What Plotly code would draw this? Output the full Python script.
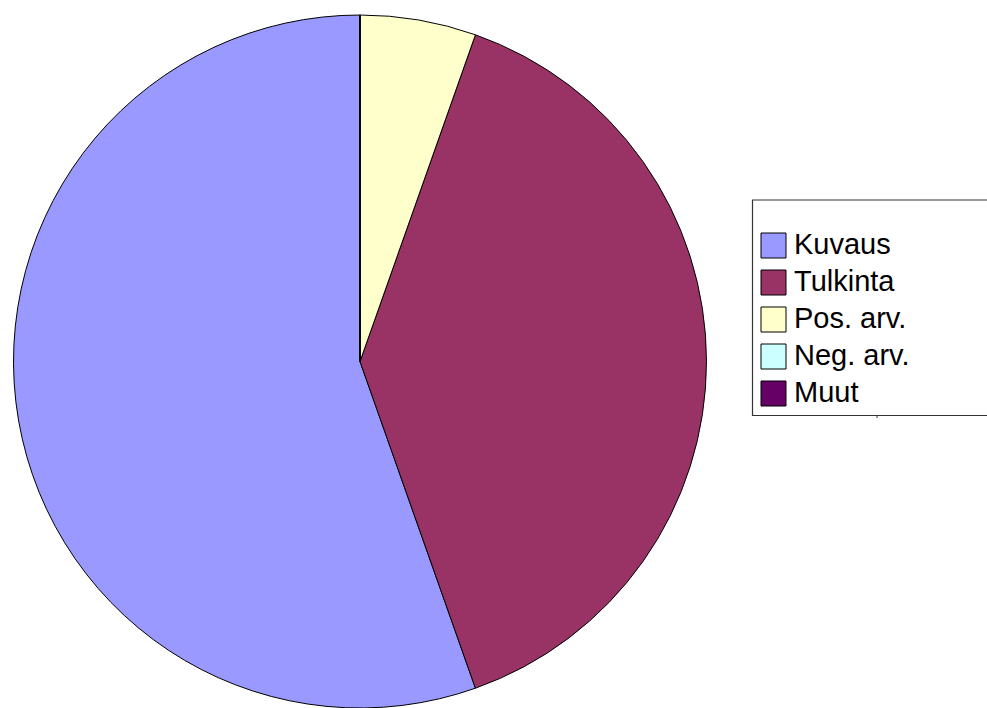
import plotly.graph_objects as go

# Data
labels = ["Kuvaus", "Tulkinta", "Pos. arv.", "Neg. arv.", "Muut"]
values = [41, 29, 4, 0, 0]
colors = ["#9999FF", "#993366", "#FFFFCC", "#CCFFFF", "#660066"]

W, H = 987, 708

def px(x):
    return x / W

def py(y):
    return 1 - y / H

# first slice should start at 12 o'clock and run counterclockwise
rot = 360.0 * (1 - values[0] / sum(values))

fig = go.Figure()
fig.add_trace(go.Pie(
    labels=labels,
    values=values,
    marker=dict(colors=colors, line=dict(color="black", width=1)),
    sort=False,
    direction="counterclockwise",
    rotation=rot,
    textinfo="none",
    hoverinfo="label+value+percent",
    showlegend=False,
    domain=dict(x=[px(10.5), px(709.5)], y=[0, py(15)]),
))

shapes = []
annotations = []
# Legend box (right edge runs off the page)
shapes.append(dict(type="rect", xref="paper", yref="paper",
                   x0=px(752.5), x1=px(1010), y0=py(415.5), y1=py(200),
                   line=dict(color="#333333", width=1.2), fillcolor="rgba(0,0,0,0)"))
shapes.append(dict(type="line", xref="paper", yref="paper",
                   x0=px(877), x1=px(877), y0=py(418), y1=py(415.5),
                   line=dict(color="#333333", width=1)))

for i, (lab, col) in enumerate(zip(labels, colors)):
    top = 233 + 37 * i
    shapes.append(dict(type="rect", xref="paper", yref="paper",
                       x0=px(761), x1=px(786), y0=py(top + 25), y1=py(top),
                       line=dict(color="black", width=1), fillcolor=col))
    annotations.append(dict(text=lab, xref="paper", yref="paper",
                            x=px(792), y=py(top + 11), xanchor="left", yanchor="middle",
                            showarrow=False,
                            font=dict(family="Liberation Sans, Arial", size=29, color="black")))

fig.update_layout(
    width=W, height=H,
    margin=dict(l=0, r=0, t=0, b=0),
    paper_bgcolor="white",
    plot_bgcolor="white",
    shapes=shapes,
    annotations=annotations,
)

fig.write_html("out.html")
